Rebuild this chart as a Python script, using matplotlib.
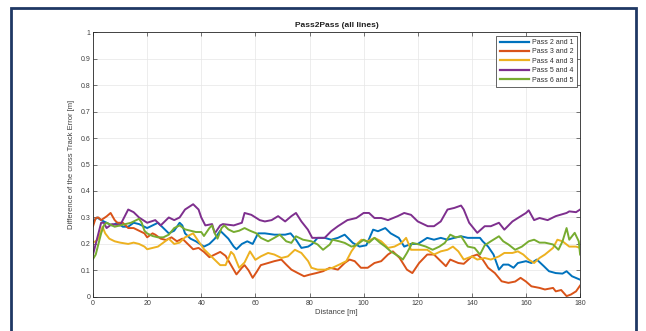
import matplotlib.pyplot as plt
from matplotlib.patches import Rectangle

# Donnees (distance en m, ecart en m)
d_p21 = [0, 1.5, 3, 5, 7, 9, 11, 13, 15, 17, 20, 22, 24, 26, 28, 30, 32, 33, 34, 36, 38, 41, 43, 45, 47, 49, 50, 52, 53, 55, 57, 59, 61, 63.5, 67, 71, 73, 75, 77, 79.5, 81, 83, 85.6, 88, 90.5, 93, 96, 98.5, 101, 103.5, 105.3, 108, 110, 113, 115, 117.5, 120, 123.5, 126, 128.5, 131, 133.5, 136, 138.5, 141, 143, 144, 146, 148, 150, 151.6, 153.5, 155.4, 157, 160, 162, 164, 166.6, 168.5, 171, 173.5, 175, 177, 180]
v_p21 = [0.285, 0.30, 0.29, 0.28, 0.27, 0.28, 0.265, 0.265, 0.28, 0.275, 0.26, 0.27, 0.28, 0.26, 0.24, 0.25, 0.28, 0.27, 0.24, 0.22, 0.21, 0.19, 0.20, 0.22, 0.25, 0.23, 0.22, 0.19, 0.18, 0.20, 0.21, 0.20, 0.24, 0.24, 0.235, 0.235, 0.24, 0.216, 0.185, 0.19, 0.20, 0.223, 0.223, 0.216, 0.223, 0.235, 0.204, 0.19, 0.195, 0.254, 0.248, 0.26, 0.24, 0.223, 0.19, 0.20, 0.20, 0.223, 0.216, 0.223, 0.216, 0.223, 0.229, 0.223, 0.223, 0.223, 0.21, 0.19, 0.16, 0.103, 0.122, 0.122, 0.11, 0.128, 0.135, 0.128, 0.141, 0.116, 0.097, 0.09, 0.088, 0.097, 0.078, 0.065]

d_p32 = [0, 1, 2, 3, 5, 6.5, 8, 9, 11, 13, 15, 17, 19, 20, 22, 23, 25, 27, 29, 31, 33, 35, 37, 39, 41, 43, 45, 47, 49, 51, 53, 55, 56, 57.5, 59, 60.5, 62, 64.7, 67, 69.6, 71.4, 73.3, 75.7, 78, 80, 82.5, 85, 87.5, 90.5, 93, 94.8, 96.7, 99, 101.5, 104, 106.5, 109, 110.8, 113.3, 116, 118, 120.5, 123.5, 126, 128.5, 130.4, 132, 135, 137, 140, 142, 144, 146, 148.5, 151, 153.5, 156, 158, 160, 162, 165, 167, 170, 171, 173, 175, 176.6, 178.5, 180]
v_p32 = [0.267, 0.298, 0.30, 0.29, 0.304, 0.317, 0.29, 0.28, 0.28, 0.26, 0.26, 0.25, 0.24, 0.225, 0.24, 0.235, 0.22, 0.215, 0.225, 0.21, 0.22, 0.20, 0.18, 0.185, 0.17, 0.15, 0.16, 0.17, 0.155, 0.12, 0.085, 0.11, 0.12, 0.10, 0.072, 0.095, 0.12, 0.128, 0.135, 0.141, 0.122, 0.103, 0.09, 0.078, 0.084, 0.09, 0.097, 0.11, 0.103, 0.128, 0.141, 0.135, 0.11, 0.11, 0.128, 0.135, 0.16, 0.172, 0.147, 0.103, 0.09, 0.128, 0.16, 0.16, 0.135, 0.116, 0.141, 0.128, 0.125, 0.153, 0.16, 0.141, 0.11, 0.09, 0.059, 0.053, 0.058, 0.072, 0.058, 0.04, 0.034, 0.028, 0.034, 0.021, 0.026, 0.003, 0.009, 0.021, 0.043]

d_p43 = [0, 1, 2, 3.5, 4.5, 6, 8, 10, 13, 15, 17, 19, 20, 22, 24, 26, 28, 30, 32, 34, 36, 37, 39, 41, 43, 45, 47, 49, 51, 52, 54, 56, 58, 60, 62, 64.7, 67, 69.6, 72, 74.6, 77, 79.5, 80.7, 83, 86, 88.5, 91, 93.6, 95.5, 97.3, 99.2, 101.5, 104, 106.5, 109, 111.4, 114, 115.7, 117.5, 120, 123.5, 126, 128.5, 131, 133, 135, 137, 140, 142, 144.75, 147, 150, 152, 155, 157, 159, 161, 163, 165, 167, 170, 171.6, 173.5, 176, 178.5, 180]
v_p43 = [0.206, 0.21, 0.22, 0.265, 0.24, 0.22, 0.21, 0.205, 0.20, 0.205, 0.20, 0.19, 0.18, 0.185, 0.19, 0.205, 0.22, 0.20, 0.205, 0.225, 0.235, 0.24, 0.21, 0.18, 0.16, 0.14, 0.12, 0.12, 0.17, 0.16, 0.11, 0.13, 0.172, 0.14, 0.153, 0.166, 0.16, 0.147, 0.153, 0.178, 0.166, 0.135, 0.11, 0.103, 0.103, 0.11, 0.122, 0.135, 0.172, 0.198, 0.216, 0.21, 0.223, 0.21, 0.185, 0.19, 0.204, 0.223, 0.178, 0.178, 0.178, 0.16, 0.172, 0.178, 0.19, 0.172, 0.141, 0.153, 0.141, 0.147, 0.141, 0.153, 0.166, 0.166, 0.172, 0.16, 0.141, 0.128, 0.147, 0.16, 0.185, 0.216, 0.21, 0.19, 0.19, 0.185]

d_p54 = [0, 1.5, 3, 4, 5, 7, 10, 13, 15, 17, 20, 23, 25, 27, 28, 30, 32, 34, 37, 39, 40, 41.5, 44, 45, 47, 48, 52, 55, 56, 58.5, 61.6, 63.5, 66, 68.4, 71, 73.3, 75, 77, 79.4, 81, 85.6, 88, 90.5, 94, 97.3, 100, 102, 104, 106.5, 109, 112.6, 115, 117.5, 120, 123.7, 126, 128.5, 131, 133.5, 136, 137, 139, 142, 144.75, 147, 150, 152, 155, 157, 160, 161, 163, 165, 168, 171, 175, 176, 178.5, 180]
v_p54 = [0.16, 0.22, 0.28, 0.28, 0.26, 0.275, 0.27, 0.33, 0.32, 0.30, 0.28, 0.29, 0.27, 0.29, 0.30, 0.29, 0.30, 0.33, 0.35, 0.33, 0.30, 0.27, 0.275, 0.24, 0.27, 0.275, 0.27, 0.28, 0.317, 0.31, 0.29, 0.285, 0.29, 0.305, 0.285, 0.305, 0.317, 0.285, 0.254, 0.223, 0.223, 0.248, 0.267, 0.29, 0.298, 0.317, 0.317, 0.298, 0.298, 0.29, 0.305, 0.317, 0.31, 0.285, 0.267, 0.267, 0.285, 0.33, 0.336, 0.345, 0.33, 0.28, 0.242, 0.267, 0.267, 0.28, 0.254, 0.285, 0.298, 0.317, 0.327, 0.29, 0.298, 0.29, 0.305, 0.317, 0.323, 0.32, 0.33]

d_p65 = [0, 1, 2, 3, 4, 5, 7, 8, 10, 12, 14, 16, 17, 18, 19, 20, 22, 24, 26, 28, 30, 32, 34, 36, 38, 40, 41, 43, 44, 45, 46, 47.5, 48.5, 50, 52, 54, 56, 58, 60.4, 62, 64.7, 67, 69, 71.4, 73.3, 75, 77.6, 80.7, 83, 85, 87.5, 88.5, 91, 93, 95.5, 97.3, 100, 102, 104, 106, 108, 110, 113, 114.5, 116, 118, 120.5, 123, 125.5, 128, 130, 132, 134, 136, 138.5, 141, 143, 144.75, 147, 150, 151.6, 153.5, 156, 158.5, 161, 163, 165, 167, 170, 172, 173.5, 175, 176, 178, 179.5, 180]
v_p65 = [0.143, 0.16, 0.20, 0.24, 0.27, 0.28, 0.27, 0.265, 0.27, 0.275, 0.28, 0.29, 0.295, 0.28, 0.25, 0.24, 0.23, 0.225, 0.225, 0.235, 0.26, 0.27, 0.255, 0.25, 0.245, 0.245, 0.23, 0.26, 0.27, 0.24, 0.22, 0.26, 0.27, 0.255, 0.245, 0.25, 0.26, 0.25, 0.24, 0.223, 0.21, 0.223, 0.235, 0.21, 0.204, 0.229, 0.216, 0.21, 0.198, 0.178, 0.198, 0.216, 0.21, 0.204, 0.19, 0.195, 0.216, 0.205, 0.223, 0.205, 0.19, 0.172, 0.153, 0.141, 0.166, 0.204, 0.198, 0.19, 0.178, 0.19, 0.204, 0.235, 0.225, 0.229, 0.19, 0.185, 0.16, 0.195, 0.21, 0.229, 0.21, 0.198, 0.178, 0.19, 0.21, 0.216, 0.205, 0.205, 0.198, 0.178, 0.21, 0.26, 0.216, 0.242, 0.21, 0.16]

noms = ["Pass 2 and 1", "Pass 3 and 2", "Pass 4 and 3", "Pass 5 and 4", "Pass 6 and 5"]
couleurs = ["#0072BD", "#D95319", "#EDB120", "#7E2F8E", "#77AC30"]

plt.rcParams['font.family'] = ['Liberation Sans', 'DejaVu Sans']

fig = plt.figure(figsize=(6.46, 3.31), dpi=100)
ax = fig.add_axes([0.144, 0.103, 0.754, 0.800])

# cadre bleu fonce autour de la figure
cadre = Rectangle((11/646, -0.1), 625/646, 1.1 - 8/331, transform=fig.transFigure,
                  fill=False, edgecolor="#1F3864", linewidth=2.0, clip_on=False)
fig.patches.append(cadre)

for d, v, nom, c in zip([d_p21, d_p32, d_p43, d_p54, d_p65],
                        [v_p21, v_p32, v_p43, v_p54, v_p65], noms, couleurs):
    ax.plot(d, v, color=c, linewidth=1.4, label=nom)

ax.set_xlim(0, 180)
ax.set_ylim(0, 1)
ax.set_xticks(range(0, 181, 20))
ax.set_yticks([0, 0.1, 0.2, 0.3, 0.4, 0.5, 0.6, 0.7, 0.8, 0.9, 1])
ax.set_yticklabels(["0", "0.1", "0.2", "0.3", "0.4", "0.5", "0.6", "0.7", "0.8", "0.9", "1"])
ax.tick_params(direction='in', length=3, width=0.5, labelsize=5, colors='#404040',
               top=True, right=True, pad=2)
for s in ax.spines.values():
    s.set_color('#262626')
    s.set_linewidth(0.6)
ax.grid(True, color='#E6E6E6', linewidth=0.5)
ax.set_axisbelow(True)

ax.set_title("Pass2Pass (all lines)", fontsize=6, fontweight='bold', color='#202020', pad=4)
ax.set_xlabel("Distance [m]", fontsize=5.5, color='#404040', labelpad=2)
ax.set_ylabel("Difference of the cross Track Error [m]", fontsize=5.5, color='#404040', labelpad=4)

leg = ax.legend(loc='upper right', fontsize=5, handlelength=4.2, borderaxespad=0.5,
                labelspacing=0.35, handletextpad=0.4, fancybox=False, framealpha=1,
                borderpad=0.5)
leg.get_frame().set_edgecolor('#262626')
leg.get_frame().set_linewidth(0.5)
for line in leg.get_lines():
    line.set_linewidth(1.6)
for t in leg.get_texts():
    t.set_color('#303030')

plt.savefig("out.png", dpi=100)
